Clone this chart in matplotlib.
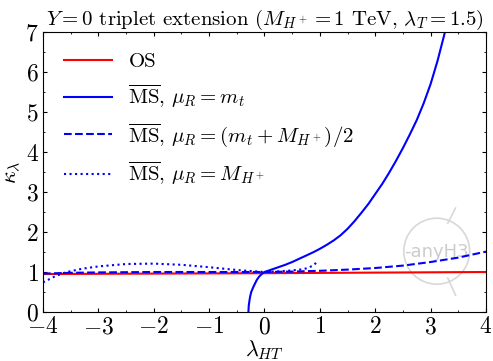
import matplotlib
matplotlib.use("Agg")
import matplotlib.pyplot as plt
from matplotlib.patches import Ellipse
from matplotlib.ticker import MultipleLocator

plt.rcParams['font.family'] = 'serif'
plt.rcParams['font.serif'] = ['cmr10']
plt.rcParams['mathtext.fontset'] = 'cm'
plt.rcParams['axes.formatter.use_mathtext'] = True

# values
os_x = [-4.0, -2.0, 0.0, 2.0, 4.0]
os_y = [0.95, 0.96, 0.97, 0.985, 1.0]

mt_x = [-0.29, -0.285, -0.27, -0.26, -0.24, -0.2, -0.14, -0.1, -0.05, 0.0,
        0.125, 0.25, 0.375, 0.5, 0.625, 0.75, 0.875, 1.0, 1.125, 1.25, 1.375,
        1.5, 1.625, 1.75, 1.875, 2.0, 2.125, 2.25, 2.375, 2.5, 2.625, 2.75,
        2.875, 3.0, 3.125, 3.25, 3.3]
mt_y = [0.0, 0.15, 0.3, 0.38, 0.5, 0.63, 0.8, 0.88, 0.95, 1.0,
        1.06, 1.12, 1.18, 1.25, 1.33, 1.41, 1.49, 1.58, 1.68, 1.79, 1.92,
        2.08, 2.27, 2.48, 2.7, 2.95, 3.2, 3.48, 3.78, 4.1, 4.44, 4.8,
        5.22, 5.7, 6.28, 6.95, 7.25]

mid_x = [-4.0, -3.5, -3.0, -2.0, -1.0, 0.0, 0.5, 1.0, 1.5, 2.0, 2.5, 3.0, 3.5, 4.0]
mid_y = [0.96, 0.98, 0.99, 1.0, 1.0, 1.0, 1.01, 1.03, 1.06, 1.1, 1.16, 1.25, 1.36, 1.51]

mh_x = [-4.0, -3.8, -3.6, -3.3, -3.0, -2.5, -2.0, -1.5, -1.0, -0.5, 0.0, 0.3, 0.5, 0.7,
        0.8, 0.9, 0.95]
mh_y = [0.74, 0.88, 0.99, 1.08, 1.14, 1.2, 1.21, 1.18, 1.12, 1.05, 1.0, 1.02, 1.04, 1.07,
        1.11, 1.18, 1.27]

fig = plt.figure(figsize=(4.93, 3.61), dpi=100)
ax = fig.add_axes([0.0872, 0.1357, 0.8986, 0.7757])

# faint logo in the background
ax.add_patch(Ellipse((3.11, 1.52), 1.19, 1.65, fill=False, ec='#d8d8d8', lw=1.2, zorder=0))
ax.plot([3.31, 3.45], [2.22, 2.6], color='#d8d8d8', lw=1.2, zorder=0)
ax.plot([3.31, 3.45], [0.85, 0.42], color='#d8d8d8', lw=1.2, zorder=0)
ax.text(3.1, 1.5, '-anyH3', color='#cccccc', fontsize=13, family='DejaVu Sans',
        ha='center', va='center', zorder=0)

ax.plot(os_x, os_y, color='#ff0000', lw=1.5, label='OS')
ax.plot(mt_x, mt_y, color='#0000ff', lw=1.5, label=r'$\overline{\mathrm{MS}}$, $\mu_R = m_t$')
ax.plot(mid_x, mid_y, color='#0000ff', lw=1.5, ls='--',
        label=r'$\overline{\mathrm{MS}}$, $\mu_R = (m_t + M_{H^+})/2$')
ax.plot(mh_x, mh_y, color='#0000ff', lw=1.5, ls=':',
        label=r'$\overline{\mathrm{MS}}$, $\mu_R = M_{H^+}$')

ax.set_xlim(-4, 4)
ax.set_ylim(0, 7)
ax.xaxis.set_major_locator(MultipleLocator(1))
ax.xaxis.set_minor_locator(MultipleLocator(0.5))
ax.yaxis.set_major_locator(MultipleLocator(1))
ax.yaxis.set_minor_locator(MultipleLocator(0.5))
ax.tick_params(which='both', direction='in', top=True, right=True, labelsize=17, pad=3)
ax.tick_params(which='major', length=3)
ax.tick_params(which='minor', length=1.5)

ax.set_xlabel(r'$\lambda_{HT}$', fontsize=16, labelpad=0)
ax.set_ylabel(r'$\kappa_\lambda$', fontsize=16, labelpad=2)
ax.set_title(r'$Y=0$ triplet extension ($M_{H^+}=1$ TeV, $\lambda_T=1.5$)', fontsize=15, pad=1)

ax.legend(loc='upper left', frameon=False, fontsize=15, handlelength=2.3,
          labelspacing=0.55, borderaxespad=0.6)

fig.savefig('out.png', dpi=100)
